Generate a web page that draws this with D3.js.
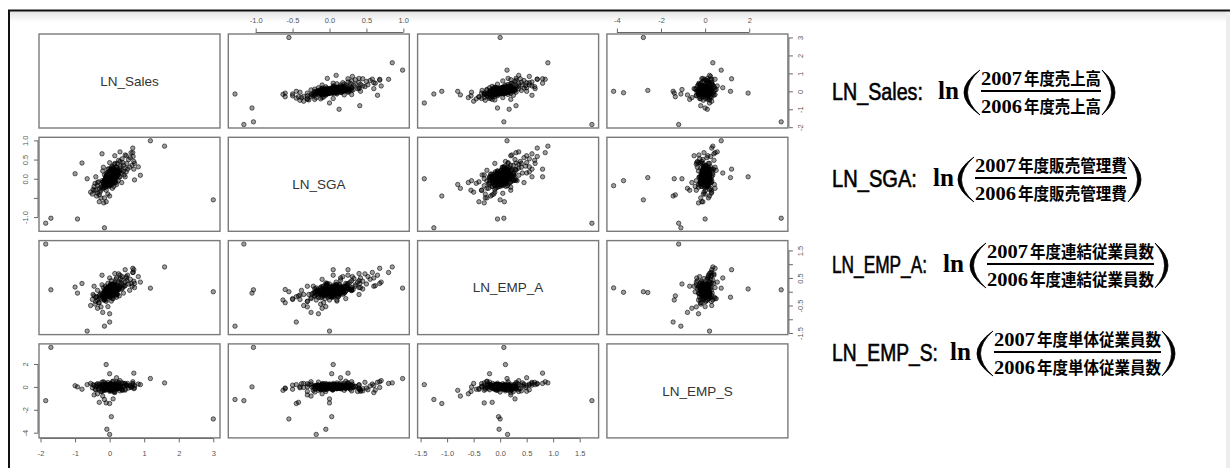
<!DOCTYPE html>
<html lang="ja">
<head>
<meta charset="UTF-8">
<title>Scatterplot matrix</title>
<script src="https://d3js.org/d3.v7.min.js"></script>
<style>
    body { margin: 0; background: #fff; }
    svg { display: block; }
    .tick text { font-family: "Liberation Sans", Arial, sans-serif; font-size: 7.5px; fill: #555; }
    .tick line, .axisline { stroke: #666; stroke-width: 1px; }
    .box { fill: none; stroke: #7a7a7a; stroke-width: 1.4px; }
    .dot { fill: rgba(0, 0, 0, 0.38); stroke: rgba(0, 0, 0, 0.72); stroke-width: 0.8px; }
    .diag { font-family: "Liberation Sans", Arial, sans-serif; font-size: 13.5px; fill: #333; text-anchor: middle; }
</style>
</head>
<body>
<svg width="1230" height="468"></svg>
<script>
// variables (one value per firm, same order in every array)
const varNames = ["LN_Sales", "LN_SGA", "LN_EMP_A", "LN_EMP_S"];

const lnSales = [
    3.00, 1.59, 1.18, -1.85, -1.70, -0.93, -0.15, -0.65, 0.00, 0.00,
    -0.08, 0.05, -0.10, -1.00, -0.80, -0.17, 0.83, 0.89, -0.22, 0.67,
    0.67, 0.00, 0.70, -0.30, 0.10, -0.45, 0.20, -0.35, 0.15, 0.30,
    0.45, -0.15, -0.10, -0.20, 0.00, -0.25, -0.10, -0.05, 0.05, 0.72,
    0.02, -0.05, 0.08, 0.12, -0.10, 0.05, 0.00, 0.15, -0.08, 0.10,
    0.03, -0.02, 0.18, -0.15, 0.06, 0.20, -0.12, 0.07, 0.13, -0.04,
    0.01, 0.09, -0.07, 0.25, -0.18, 0.04, 0.16, -0.01, 0.11, -0.09,
    0.22, 0.00, 0.14, -0.06, 0.28, -0.20, 0.06, 0.17, -0.03, 0.10,
    -0.11, 0.19, 0.03, 0.24, -0.14, 0.08, 0.30, -0.22, 0.12, 0.05,
    -0.08, 0.21, 0.00, 0.14, -0.16, 0.09, 0.33, -0.25, 0.02, 0.18,
    0.40, 0.45, -0.30, -0.35, 0.38, 0.50, -0.28, 0.35, 0.55, -0.40,
    0.30, 0.60, -0.45, 0.25, 0.70, -0.50, 0.42, -0.20, 0.15, -0.10,
    0.48, -0.32, 0.20, 0.05, -0.38, 0.65, 0.28, -0.05, 0.36, -0.25,
    0.12, 0.52, -0.15, 0.32, -0.42, 0.08, 0.45, -0.35, 0.22, 0.58,
    -0.12, 0.18, 0.62, -0.48, 0.26, -0.22, 0.40, -0.30, 0.10, 0.68,
    0.35, -0.18, 0.15, -0.05, 0.48, -0.40, 0.30, 0.72, -0.55, 0.00,
    0.04, -0.06, 0.10, -0.02, 0.07, 0.13, -0.09, 0.01, 0.16, -0.12,
    0.00, 0.06, -0.04, 0.11, 0.19, -0.15, 0.03, 0.08, -0.07, 0.14,
    -0.01, 0.09, 0.23, -0.10, 0.05, 0.12, -0.05, 0.02, 0.18, -0.18,
    0.07, -0.03, 0.11, 0.20, -0.08, 0.04, 0.15, -0.13, 0.00, 0.09,
    -0.06, 0.13, 0.03, -0.11, 0.06, 0.17, 0.10, -0.02, 0.24, -0.14,
    0.01, 0.08, -0.05, 0.14, 0.21, -0.09, 0.05, 0.12, -0.16, 0.03,
    0.11, -0.03, 0.07, 0.18, -0.12, 0.02, 0.15, 0.06, -0.07, 0.09,
    0.00, 0.13, -0.10, 0.04, 0.27, 0.10, -0.04, 0.08, 0.15, -0.01,
    0.05, 0.19, -0.08, 0.12, 0.02, -0.15, 0.09, 0.22, -0.02, 0.07,
    0.10, -0.06, 0.16, 0.03, -0.11, 0.08, 0.13, -0.03, 0.06, 0.20
];

const lnSGA = [
    -0.55, 0.85, 0.99, -1.16, -1.03, -1.05, -1.28, 0.00, -0.45, -0.18,
    -0.05, 0.03, 0.05, 0.13, 0.41, -0.63, 0.31, 0.09, 0.65, 0.68,
    0.80, 0.03, 0.25, -0.42, 0.00, -0.30, 0.15, -0.10, 0.40, 0.05,
    0.05, -0.50, -0.60, -0.25, -0.15, -0.30, 0.00, -0.05, 0.10, -0.03,
    0.01, -0.03, 0.05, 0.10, -0.08, -0.02, 0.06, 0.12, 0.02, 0.00,
    0.08, -0.06, 0.08, -0.12, 0.15, 0.18, 0.00, 0.03, 0.16, -0.10,
    -0.04, 0.11, -0.05, 0.15, -0.15, 0.12, 0.05, 0.03, 0.07, -0.14,
    0.25, -0.12, 0.02, 0.09, 0.20, -0.10, 0.00, 0.22, 0.14, -0.06,
    -0.18, 0.13, -0.09, 0.10, -0.04, 0.19, 0.28, -0.20, 0.04, 0.10,
    -0.16, 0.06, 0.18, 0.24, -0.06, -0.10, 0.22, -0.22, 0.04, 0.30,
    0.35, 0.28, -0.25, -0.18, 0.42, 0.40, -0.35, 0.15, 0.50, -0.30,
    0.45, 0.55, -0.20, -0.05, 0.45, -0.40, 0.10, 0.20, 0.38, -0.30,
    0.60, -0.08, -0.15, 0.30, -0.45, 0.35, 0.05, 0.25, 0.52, -0.50,
    -0.20, 0.25, 0.10, 0.33, -0.12, -0.25, 0.62, -0.38, 0.40, 0.30,
    -0.22, -0.10, 0.68, -0.28, 0.48, -0.05, 0.20, -0.60, 0.22, 0.58,
    -0.10, 0.30, 0.60, -0.40, 0.18, 0.05, 0.70, 0.40, -0.35, 0.42,
    0.08, -0.02, 0.04, -0.10, 0.14, 0.06, -0.05, 0.20, 0.10, -0.16,
    -0.14, 0.00, 0.12, 0.02, 0.10, -0.20, 0.24, -0.08, 0.06, 0.18,
    0.03, -0.12, 0.16, 0.08, -0.06, 0.26, -0.18, 0.12, -0.04, -0.08,
    0.22, 0.07, -0.02, 0.12, -0.12, 0.16, 0.04, -0.02, 0.10, 0.28,
    -0.08, 0.00, 0.18, -0.04, 0.09, 0.14, -0.06, -0.16, 0.20, -0.12,
    0.14, 0.10, 0.02, -0.08, 0.30, 0.10, -0.10, 0.06, -0.24, -0.04,
    0.00, -0.06, 0.26, 0.04, -0.02, 0.06, 0.20, -0.14, 0.16, 0.12,
    0.10, 0.22, -0.10, 0.00, 0.16, -0.02, 0.08, 0.32, -0.10, -0.20,
    0.18, 0.06, 0.04, 0.14, -0.08, -0.04, -0.02, 0.08, 0.26, 0.02,
    0.12, 0.16, 0.00, -0.16, 0.04, 0.24, -0.04, 0.00, 0.06, 0.18
];

const lnEmpA = [
    0.00, 0.90, 0.13, 1.73, 0.07, -0.05, -1.25, -1.43, -1.10, 0.14,
    -0.02, -0.03, 0.10, 0.17, 0.30, -0.30, 0.55, 0.35, 0.60, 0.85,
    0.70, -0.20, 0.80, -0.15, 0.28, 0.20, 0.50, -0.60, 0.66, 0.60,
    0.80, -0.28, 0.08, -0.75, -0.80, -0.55, -0.30, -0.54, -0.34, 0.30,
    0.00, -0.06, 0.04, 0.06, -0.04, 0.08, -0.03, 0.10, -0.10, 0.02,
    0.12, 0.05, 0.15, -0.08, -0.05, 0.05, -0.15, -0.12, 0.18, 0.02,
    -0.08, 0.00, 0.10, 0.12, -0.12, 0.08, -0.02, -0.18, 0.22, -0.02,
    0.14, -0.06, 0.08, 0.03, 0.20, -0.20, 0.14, 0.02, -0.10, 0.10,
    -0.10, 0.25, -0.14, 0.05, 0.00, 0.16, 0.18, -0.15, -0.08, 0.25,
    0.08, 0.12, 0.06, 0.28, -0.25, 0.03, 0.30, -0.05, 0.18, 0.08,
    0.25, 0.35, -0.22, -0.30, 0.15, 0.40, -0.10, 0.42, 0.28, -0.35,
    0.10, 0.45, -0.15, 0.32, 0.38, -0.28, 0.20, -0.05, 0.35, -0.35,
    0.50, -0.40, -0.20, 0.40, -0.18, 0.20, -0.15, 0.30, 0.55, -0.25,
    0.00, 0.60, -0.30, 0.48, -0.45, -0.25, 0.22, 0.05, -0.10, 0.05,
    0.20, 0.45, 0.30, -0.10, 0.65, 0.25, -0.05, -0.40, -0.25, 0.70,
    0.10, 0.15, 0.20, -0.12, 0.55, -0.20, 0.35, 0.15, -0.50, 0.50,
    -0.05, 0.06, 0.12, -0.02, 0.00, 0.18, -0.14, 0.09, 0.04, -0.07,
    0.03, -0.10, 0.07, 0.14, 0.08, -0.03, 0.10, 0.20, -0.16, 0.01,
    -0.12, 0.16, 0.06, 0.00, -0.08, 0.11, 0.04, -0.18, 0.24, -0.10,
    0.02, -0.04, 0.22, -0.06, 0.12, 0.15, -0.10, -0.20, 0.20, 0.07,
    0.09, 0.05, -0.09, 0.06, 0.26, -0.01, 0.13, 0.00, 0.16, -0.22,
    0.14, -0.14, 0.01, 0.10, 0.04, -0.05, 0.19, -0.03, -0.08, 0.28,
    0.07, -0.11, 0.11, -0.13, 0.02, 0.24, 0.09, 0.03, -0.04, -0.16,
    0.05, 0.21, -0.06, -0.15, 0.13, 0.00, 0.17, 0.08, -0.02, 0.11,
    -0.01, 0.03, 0.15, 0.26, -0.12, 0.07, 0.06, -0.09, 0.12, 0.18,
    -0.08, 0.13, 0.00, 0.04, -0.02, 0.22, 0.10, -0.07, 0.14, 0.05
];

const lnEmpS = [
    -2.80, 0.35, 0.73, -1.20, 3.45, 0.00, -1.10, 0.20, -1.45, -4.15,
    -3.70, -2.60, 1.95, 0.10, -0.20, -0.30, 0.25, 0.20, 0.40, 0.45,
    0.30, 1.15, 1.20, -1.35, -1.05, -0.70, 0.80, -0.60, 0.20, 0.15,
    0.30, -0.20, -0.10, -0.80, -0.30, -0.40, -1.40, 0.00, 0.05, 0.10,
    0.08, 0.05, -0.10, 0.02, 0.12, -0.06, -0.15, 0.00, 0.10, -0.08,
    -0.12, 0.15, -0.05, 0.04, 0.20, 0.08, 0.00, -0.18, 0.06, 0.10,
    0.22, -0.04, -0.20, -0.08, 0.14, 0.00, 0.18, 0.06, -0.14, 0.03,
    0.10, -0.25, 0.12, -0.10, -0.02, 0.20, 0.26, -0.12, 0.00, -0.20,
    0.06, 0.00, 0.30, -0.15, -0.18, 0.16, 0.04, 0.09, -0.28, -0.06,
    0.18, 0.12, -0.08, 0.24, -0.04, 0.08, -0.12, 0.02, -0.22, 0.14,
    0.05, -0.20, 0.25, 0.10, -0.30, 0.15, -0.05, 0.35, -0.10, 0.02,
    -0.35, 0.08, 0.12, 0.30, -0.15, -0.08, 0.22, -0.30, -0.40, 0.28,
    0.12, -0.22, 0.42, -0.35, 0.20, 0.02, -0.12, 0.38, -0.25, 0.15,
    -0.45, 0.30, 0.35, -0.05, -0.20, 0.45, -0.28, 0.28, -0.18, 0.10,
    -0.30, 0.25, -0.05, 0.20, 0.40, -0.40, 0.32, -0.15, 0.50, 0.25,
    -0.22, 0.45, -0.50, 0.00, 0.15, -0.25, 0.55, -0.10, 0.30, -0.38,
    0.03, -0.07, 0.09, 0.14, -0.11, 0.01, 0.05, -0.03, -0.16, 0.11,
    -0.09, 0.12, 0.00, -0.05, 0.07, -0.14, 0.16, 0.04, -0.01, -0.08,
    0.10, -0.02, -0.12, 0.06, 0.18, -0.06, 0.02, 0.13, 0.05, -0.04,
    -0.10, 0.20, 0.03, -0.13, 0.08, -0.18, 0.11, 0.00, -0.06, 0.15,
    0.04, -0.15, 0.09, -0.20, 0.00, 0.12, -0.09, 0.07, 0.02, -0.12,
    -0.13, 0.06, 0.15, 0.01, -0.07, 0.10, -0.04, 0.19, -0.02, 0.08,
    0.14, -0.05, -0.09, 0.05, 0.12, -0.11, 0.00, -0.17, 0.09, 0.03,
    -0.07, 0.10, -0.15, 0.07, -0.03, 0.17, -0.10, 0.01, 0.13, -0.19,
    0.06, -0.12, 0.02, 0.18, -0.08, 0.13, -0.14, 0.09, -0.05, 0.00,
    0.16, -0.01, 0.05, -0.10, 0.20, 0.04, -0.06, 0.11, -0.13, 0.08
];

// ticks
const tickValues = [
    [-2, -1, 0, 1, 2, 3],
    [-1, -0.5, 0, 0.5, 1],
    [-1.5, -1, -0.5, 0, 0.5, 1, 1.5],
    [-4, -2, 0, 2]
];
const colTickLabels = [
    ["-2", "-1", "0", "1", "2", "3"],
    ["-1.0", "-0.5", "0.0", "0.5", "1.0"],
    ["-1.5", "-1.0", "-0.5", "0.0", "0.5", "1.0", "1.5"],
    ["-4", "-2", "0", "2"]
];
const rowTickLabels = [
    ["-2", "-1", "0", "1", "2", "3"],
    ["-1.0", "", "0.0", "0.5", "1.0"],
    ["-1.5", "", "-0.5", "", "0.5", "", "1.5"],
    ["-4", "-2", "0", "2"]
];

// formula text on the right
const formulaLabels = ["LN_Sales:", "LN_SGA:", "LN_EMP_A:", "LN_EMP_S:"];
const formulaItems = ["売上高", "販売管理費", "連結従業員数", "単体従業員数"];
const yearNum = "2007", yearDen = "2006", yearSuffix = "年度";

const svg = d3.select("svg");

// page frame like the screenshot
const defs = svg.append("defs");
const shade = defs.append("linearGradient").attr("id", "shade").attr("x1", 0).attr("y1", 0).attr("x2", 0).attr("y2", 1);
shade.append("stop").attr("offset", "0%").attr("stop-color", "#e2e2e2");
shade.append("stop").attr("offset", "100%").attr("stop-color", "#ffffff");
svg.append("rect").attr("x", 10).attr("y", 11).attr("width", 1220).attr("height", 11).attr("fill", "url(#shade)");
svg.append("rect").attr("x", 1226).attr("y", 11).attr("width", 4).attr("height", 457).attr("fill", "#ededed");
svg.append("line").attr("x1", 8).attr("x2", 1230).attr("y1", 10.5).attr("y2", 10.5).attr("stroke", "#111").attr("stroke-width", 2);
svg.append("line").attr("x1", 9).attr("x2", 9).attr("y1", 10).attr("y2", 468).attr("stroke", "#111").attr("stroke-width", 2);

// scatterplot matrix
const data = [lnSales, lnSGA, lnEmpA, lnEmpS];
const n = data.length;
const panelW = 181, panelH = 94, x0 = 39, y0 = 34, stepX = 189.3, stepY = 103.3;

const domains = data.map(v => {
    const [lo, hi] = d3.extent(v);
    const pad = (hi - lo) * 0.04;
    return [lo - pad, hi + pad];
});
const xScales = domains.map((d, j) => d3.scaleLinear().domain(d).range([x0 + j * stepX, x0 + j * stepX + panelW]));
const yScales = domains.map((d, i) => d3.scaleLinear().domain(d).range([y0 + i * stepY + panelH, y0 + i * stepY]));

const matrix = svg.append("g");
for (let i = 0; i < n; i++) {
    for (let j = 0; j < n; j++) {
        const px = x0 + j * stepX, py = y0 + i * stepY;
        const cell = matrix.append("g");
        if (i === j) {
            cell.append("text").attr("class", "diag")
                .attr("x", px + panelW / 2).attr("y", py + panelH / 2).attr("dy", "0.35em")
                .text(varNames[i]);
        } else {
            cell.selectAll("circle").data(d3.range(data[0].length)).join("circle")
                .attr("class", "dot")
                .attr("r", 2.2)
                .attr("cx", k => xScales[j](data[j][k]))
                .attr("cy", k => yScales[i](data[i][k]));
        }
        cell.append("rect").attr("class", "box")
            .attr("x", px).attr("y", py).attr("width", panelW).attr("height", panelH);
    }
}

// axes, alternating sides like R pairs()
function drawAxis(side, scale, vals, labels, pos) {
    const axis = side === "top" ? d3.axisTop(scale) : side === "bottom" ? d3.axisBottom(scale)
        : side === "left" ? d3.axisLeft(scale) : d3.axisRight(scale);
    axis.tickValues(vals).tickSize(4).tickFormat((d, k) => labels[k])
        .tickPadding(side === "top" ? 5.3 : 8);
    const horiz = side === "top" || side === "bottom";
    const g = svg.append("g").attr("transform", horiz ? `translate(0,${pos})` : `translate(${pos},0)`).call(axis);
    g.select(".domain").remove();
    const a = scale(vals[0]), b = scale(vals[vals.length - 1]);
    g.append("line").attr("class", "axisline")
        .attr("x1", horiz ? a : 0).attr("x2", horiz ? b : 0)
        .attr("y1", horiz ? 0 : a).attr("y2", horiz ? 0 : b);
    if (!horiz) {
        g.selectAll(".tick text")
            .attr("x", null).attr("dy", null).attr("text-anchor", "middle")
            .attr("transform", side === "left" ? "translate(-10,0) rotate(-90)" : "translate(13.7,0) rotate(-90)");
    }
}

for (let j = 0; j < n; j++) {
    if (j % 2 === 0) drawAxis("bottom", xScales[j], tickValues[j], colTickLabels[j], y0 + (n - 1) * stepY + panelH + 0.5);
    else drawAxis("top", xScales[j], tickValues[j], colTickLabels[j], y0 - 1.5);
}
for (let i = 0; i < n; i++) {
    if (i % 2 === 0) drawAxis("right", yScales[i], tickValues[i], rowTickLabels[i], x0 + (n - 1) * stepX + panelW + 1);
    else drawAxis("left", yScales[i], tickValues[i], rowTickLabels[i], x0 - 1);
}

// formulas
const fLayout = [
    { cy: 91, labelW: 91, lnX: 938, fx0: 981, fx1: 1101 },
    { cy: 178, labelW: 85, lnX: 933, fx0: 975, fx1: 1127 },
    { cy: 264, labelW: 95, lnX: 943, fx0: 987, fx1: 1154 },
    { cy: 352, labelW: 106, lnX: 950, fx0: 994, fx1: 1161 }
];
const digitW = 41;

// squeeze a text horizontally to an exact width (keeps its box honest)
function fitText(sel, x, y, width) {
    const w = sel.node().getComputedTextLength();
    sel.attr("x", 0).attr("y", 0).attr("transform", `translate(${x},${y}) scale(${width / w},1)`);
}

const formula = svg.append("g");
fLayout.forEach((f, r) => {
    const g = formula.append("g");
    const lab = g.append("text")
        .style("font-family", "'Liberation Sans', Arial, sans-serif").style("font-size", "24px")
        .attr("fill", "#000").attr("stroke", "#000").attr("stroke-width", 0.6)
        .text(formulaLabels[r]);
    fitText(lab, 832, f.cy + 8.5, f.labelW);
    const ln = g.append("text")
        .style("font-family", "'Liberation Serif', 'DejaVu Serif', serif").style("font-size", "25px").style("font-weight", "bold")
        .text("ln");
    fitText(ln, f.lnX, f.cy + 8, 21);

    const top = f.cy - 21, bot = f.cy + 24, mid = (top + bot) / 2;
    const le = f.fx0 - 1, lm = f.fx0 - 17;
    g.append("path")
        .attr("d", `M${le},${top} Q${2 * lm - le},${mid} ${le},${bot} Q${2 * (lm + 3.5) - le},${mid} ${le},${top} Z`)
        .attr("fill", "#000").attr("stroke", "#000").attr("stroke-width", 0.8);
    const re = f.fx1 + 1, rm = f.fx1 + 14;
    g.append("path")
        .attr("d", `M${re},${top} Q${2 * rm - re},${mid} ${re},${bot} Q${2 * (rm - 3.5) - re},${mid} ${re},${top} Z`)
        .attr("fill", "#000").attr("stroke", "#000").attr("stroke-width", 0.8);

    g.append("line").attr("x1", f.fx0).attr("x2", f.fx1).attr("y1", f.cy).attr("y2", f.cy)
        .attr("stroke", "#000").attr("stroke-width", 2);

    [[yearNum, f.cy - 6], [yearDen, f.cy + 21.5]].forEach(([yr, by]) => {
        const d = g.append("text")
            .style("font-family", "'Liberation Serif', 'DejaVu Serif', serif").style("font-size", "18px").style("font-weight", "bold")
            .text(yr);
        fitText(d, f.fx0, by, digitW);
        const c = g.append("text")
            .style("font-family", "'Noto Sans CJK JP', sans-serif").style("font-size", "16.5px").style("font-weight", "bold")
            .text(yearSuffix + formulaItems[r]);
        fitText(c, f.fx0 + digitW + 2, by, f.fx1 - f.fx0 - digitW - 2);
    });
});
</script>
</body>
</html>
